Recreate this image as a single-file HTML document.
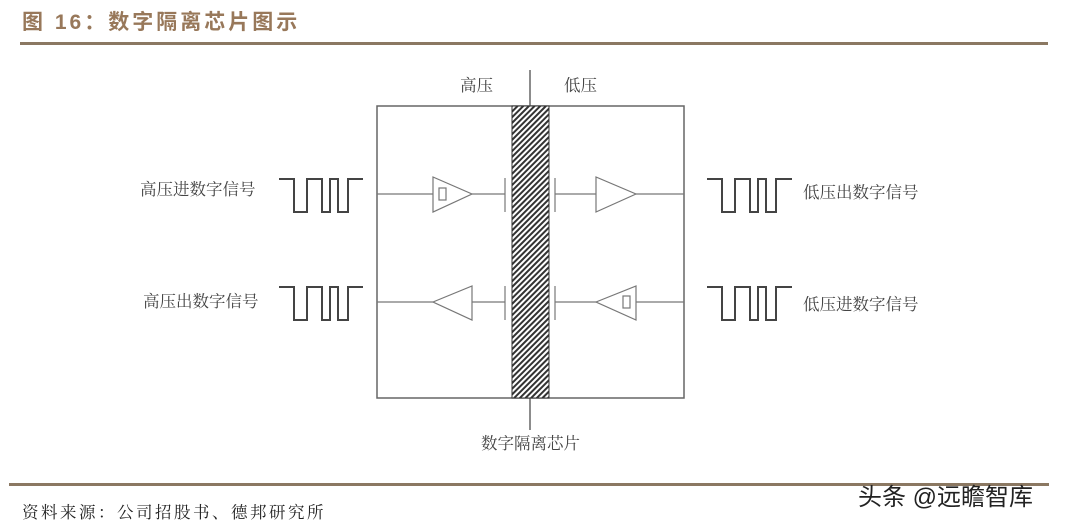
<!DOCTYPE html>
<html><head><meta charset="utf-8"><style>
html,body{margin:0;padding:0;background:#fff;}
svg{display:block;}
</style></head><body>
<svg width="1073" height="527" viewBox="0 0 1073 527" xmlns="http://www.w3.org/2000/svg">
<defs>
<pattern id="h" width="4" height="4" patternUnits="userSpaceOnUse" patternTransform="rotate(45)">
<rect width="4" height="4" fill="#fff"/>
<rect width="2" height="4" fill="#333"/>
</pattern>
</defs>
<text x="22" y="29" font-family="'Liberation Sans','Noto Sans CJK SC',sans-serif" font-size="21" font-weight="bold" fill="#98785a" letter-spacing="3">图 16：数字隔离芯片图示</text>
<rect x="20" y="42" width="1028" height="3" fill="#8b7862"/>
<g font-family="'Liberation Serif','Noto Serif CJK SC',serif" font-size="16.5" fill="#444">
<text x="460" y="91">高压</text>
<text x="564" y="91">低压</text>
<text x="140" y="195">高压进数字信号</text>
<text x="143" y="307">高压出数字信号</text>
<text x="803" y="198">低压出数字信号</text>
<text x="803" y="310">低压进数字信号</text>
<text x="481" y="449">数字隔离芯片</text>
</g>
<g stroke="#666" stroke-width="1.5" fill="none">
<line x1="530" y1="70" x2="530" y2="430"/>
<rect x="377" y="106" width="307" height="292" fill="#fff"/>
</g>
<rect x="512" y="106" width="37" height="292" fill="url(#h)" stroke="#333" stroke-width="1"/>
<g stroke="#777" stroke-width="1.2" fill="none">
<line x1="377" y1="194" x2="433" y2="194"/>
<line x1="472" y1="194" x2="505" y2="194"/>
<line x1="505" y1="178" x2="505" y2="212"/>
<polygon points="433,177 433,212 472,194"/>
<rect x="439" y="188" width="7" height="12"/>
<line x1="555" y1="178" x2="555" y2="212"/>
<line x1="555" y1="194" x2="596" y2="194"/>
<polygon points="596,177 596,212 636,194"/>
<line x1="636" y1="194" x2="684" y2="194"/>

<line x1="377" y1="302" x2="433" y2="302"/>
<polygon points="433,302 472,286 472,320"/>
<line x1="472" y1="302" x2="505" y2="302"/>
<line x1="505" y1="286" x2="505" y2="320"/>
<line x1="555" y1="286" x2="555" y2="320"/>
<line x1="555" y1="302" x2="596" y2="302"/>
<polygon points="596,302 636,286 636,320"/>
<rect x="623" y="296" width="7" height="12"/>
<line x1="636" y1="302" x2="684" y2="302"/>
</g>
<g stroke="#444" stroke-width="2" fill="none">
<polyline points="279,179 294,179 294,212 307,212 307,179 322,179 322,212 330,212 330,179 338,179 338,212 348,212 348,179 363,179"/>
<polyline points="279,287 294,287 294,320 307,320 307,287 322,287 322,320 330,320 330,287 338,287 338,320 348,320 348,287 363,287"/>
<polyline points="707,179 722,179 722,212 735,212 735,179 750,179 750,212 758,212 758,179 766,179 766,212 776,212 776,179 792,179"/>
<polyline points="707,287 722,287 722,320 735,320 735,287 750,287 750,320 758,320 758,287 766,287 766,320 776,320 776,287 792,287"/>
</g>
<rect x="9" y="483" width="1040" height="3" fill="#8b7862"/>
<text x="22" y="518" font-family="'Liberation Serif','Noto Serif CJK SC',serif" font-size="16.5" fill="#222" letter-spacing="2.5">资料来源：公司招股书、德邦研究所</text>
<text x="858" y="505" font-family="'Liberation Sans','Noto Sans CJK SC',sans-serif" font-size="24" fill="#222">头条 @远瞻智库</text>
</svg>
</body></html>
